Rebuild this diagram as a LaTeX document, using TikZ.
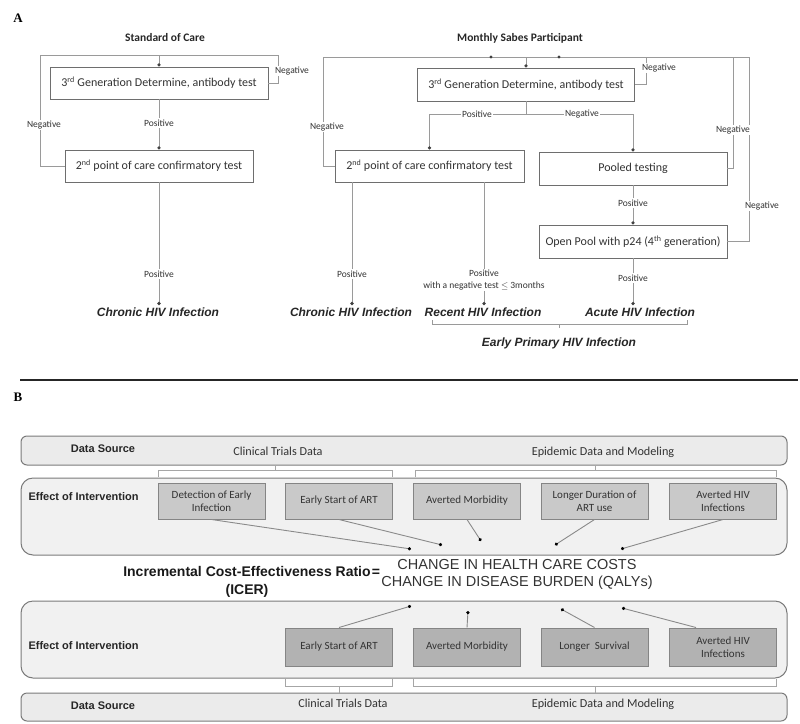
\documentclass[tikz,border=0pt]{standalone}
\usepackage{fontspec}
\setmainfont{Carlito}
\newfontfamily\fari{Liberation Sans}
\newfontfamily\fser{Liberation Serif}
\usetikzlibrary{arrows.meta,calc}
\definecolor{lineA}{HTML}{9A9A9A}
\definecolor{boxA}{HTML}{6E6E6E}
\definecolor{txtA}{HTML}{333333}
\definecolor{dsfill}{HTML}{EBEBEB}
\definecolor{effill}{HTML}{F1F1F1}
\definecolor{obdraw}{HTML}{7A7A7A}
\definecolor{ibtop}{HTML}{C9C9C9}
\definecolor{ibbot}{HTML}{B2B2B2}
\definecolor{ibdraw}{HTML}{858585}
\definecolor{lineB}{HTML}{8A8A8A}
\begin{document}
\begin{tikzpicture}[x=1pt,y=-1pt,
  box/.style={draw=boxA, line width=0.9pt, fill=white, minimum height=32pt, inner sep=2pt,
    font=\fontsize{12}{14}\selectfont, text=txtA},
  lab/.style={fill=white, inner sep=1.2pt, font=\fontsize{9.5}{12}\selectfont, text=txtA, align=center},
  ln/.style={draw=lineA, line width=0.8pt},
  arr/.style={ln, -{Circle[length=3.2pt, color=black!75]}},
  hdr/.style={font=\bfseries\fontsize{11.5}{14}\selectfont, text=black!85},
  outc/.style={font=\fari\bfseries\itshape\fontsize{12}{14}\selectfont, text=black!85, inner sep=2pt},
  obox/.style={draw=obdraw, line width=1pt, minimum width=766pt, inner sep=0pt},
  ibox/.style={draw=ibdraw, line width=1pt, minimum width=107pt, align=center, inner sep=1pt,
    font=\fontsize{11}{13}\selectfont, text=txtA},
  bl/.style={font=\fari\bfseries\fontsize{11}{13}\selectfont, text=black!85},
  srcl/.style={font=\fontsize{12.2}{14}\selectfont, text=txtA},
  lnB/.style={draw=lineB, line width=0.9pt, -{Circle[length=3.2pt, color=black]}},
  brk/.style={draw=black!35, line width=0.9pt}
]
\useasboundingbox (0,0) rectangle (800,723);

% ================= Part A =================
\node[font=\fser\bfseries\fontsize{13}{15}\selectfont] (lA) at (18,18) {A};
\node[hdr] (hsoc) at (165,38) {Standard of Care};
\node[hdr] (hms) at (520,38) {Monthly Sabes Participant};

% Standard of care
\node[box, minimum width=218pt] (s1) at (159,83) {3\textsuperscript{rd} Generation Determine, antibody test};
\node[box, minimum width=188pt] (s2) at (159,166) {2\textsuperscript{nd} point of care confirmatory test};
\node[outc, anchor=base] (c1) at (158,316) {Chronic HIV Infection};
\coordinate (sT) at (159,55);
\coordinate (sL) at (40,55);
\coordinate (sR) at (278,55);
\draw[ln] (s1.east) -| (sR) -- (sL) |- (s2.west);
\draw[arr] (sT) -- (s1.north);
\draw[arr] (s1.south) -- (s2.north);
\draw[arr] (s2.south) -- (s2.south |- c1.north);
\node[lab] (ls1) at (292,71) {Negative};
\node[lab] (ls2) at (44,125) {Negative};
\node[lab] (ls3) at (159,123) {Positive};
\node[lab] (ls4) at (159,274) {Positive};

% Monthly Sabes
\node[box, minimum width=217pt, minimum height=33pt] (m1) at (526,84.5) {3\textsuperscript{rd} Generation Determine, antibody test};
\node[box, minimum width=189pt] (m2) at (429.5,166) {2\textsuperscript{nd} point of care confirmatory test};
\node[box, minimum width=188pt, minimum height=33pt] (pl) at (633,168.5) {Pooled testing};
\node[box, minimum width=188pt, minimum height=33pt] (op) at (633,241.5) {Open Pool with p24 (4\textsuperscript{th} generation)};
\node[outc, anchor=base] (c2) at (351,316) {Chronic HIV Infection};
\node[outc, anchor=base] (rec) at (483,316) {Recent HIV Infection};
\node[outc, anchor=base] (ac) at (640,316) {Acute HIV Infection};
\coordinate (mT) at (526,57);
\coordinate (mL) at (323,57);
\coordinate (mR) at (749,57);
\coordinate (mR1) at (646,57);
\coordinate (mR2) at (733,57);
\coordinate (mB) at (526,114);
\coordinate (mD1) at (491,57);
\coordinate (mD2) at (559,57);
\coordinate (rx) at (484,0);
\coordinate (cx) at (352,0);
\draw[ln] (m2.west) -| (mL) -- (mR);
\draw[ln] (m1.east) -| (mR1);
\draw[ln] (pl.east) -| (mR2);
\draw[ln] (op.east) -| (mR);
\fill[black!75] (mD1) circle (1.6pt);
\fill[black!75] (mD2) circle (1.6pt);
\draw[arr] (mT) -- (m1.north);
\draw[ln] (m1.south) -- (mB);
\draw[arr] (mB) -| (m2.north);
\draw[arr] (mB) -| (pl.north);
\draw[arr] (pl.south) -- (op.north);
\draw[arr] (op.south) -- (op.south |- ac.north);
\draw[arr] (m2.south -| cx) -- (cx |- c2.north);
\draw[arr] (m2.south -| rx) -- (rx |- rec.north);
\node[lab] (lm1) at (659,68) {Negative};
\node[lab] (lm2) at (327,127) {Negative};
\node[lab] (lm3) at (477,114) {Positive};
\node[lab] (lm4) at (582,114) {Negative};
\node[lab] (lm5) at (733,130) {Negative};
\node[lab] (lm6) at (762,206) {Negative};
\node[lab] (lm7) at (633,203) {Positive};
\node[lab] (lm8) at (633,278) {Positive};
\node[lab] (lm9) at (352,274) {Positive};
\node[lab] (lm10) at (484,280) {Positive\\with a negative test $\le$ 3months};
\coordinate (bk1) at (432,320);
\coordinate (bk2) at (687,320);
\coordinate (bkm) at (559,324);
\draw[ln] (bk1) -- (432,324) -- (687,324) -- (bk2);
\draw[ln] (bkm) -- (559,328);
\node[outc] (epi) at (559,343) {Early Primary HIV Infection};

% separator
\coordinate (sepL) at (20,380);
\coordinate (sepR) at (798,380);
\draw[line width=1.3pt, black!85] (sepL) -- (sepR);

% ================= Part B =================
\node[font=\fser\bfseries\fontsize{13}{15}\selectfont] (lB) at (18,397) {B};
\node[obox, fill=dsfill, minimum height=29pt, rounded corners=6pt] (ds1) at (404,450.5) {};
\node[obox, fill=effill, minimum height=77pt, rounded corners=12pt] (ef1) at (404,516.5) {};
\node[obox, fill=effill, minimum height=77pt, rounded corners=12pt] (ef2) at (404,639.5) {};
\node[obox, fill=dsfill, minimum height=28pt, rounded corners=6pt] (ds2) at (404,707) {};

\node[bl] (dsl1) at (103,449) {Data Source};
\node[bl] (dsl2) at (103,706) {Data Source};
\node[srcl] (ct1) at (278,451) {Clinical Trials Data};
\node[srcl] (ep1) at (603,452) {Epidemic Data and Modeling};
\node[srcl] (ct2) at (343,703) {Clinical Trials Data};
\node[srcl] (ep2) at (603,704) {Epidemic Data and Modeling};
\node[bl, anchor=west] (efl1) at (25,497) {Effect of Intervention};
\node[bl, anchor=west] (efl2) at (25,646) {Effect of Intervention};

% brackets
\draw[brk] (158,477) -- (158,470) -- (392,470) -- (392,477);
\draw[brk] (275,470) -- (ds1.south -| 275,0);
\draw[brk] (415,477) -- (415,470) -- (776,470) -- (776,477);
\draw[brk] (595,470) -- (ds1.south -| 595,0);
\draw[brk] (285,679) -- (285,686) -- (392,686) -- (392,679);
\draw[brk] (339,686) -- (ds2.north -| 339,0);
\draw[brk] (413,679) -- (413,686) -- (776,686) -- (776,679);
\draw[brk] (595,686) -- (ds2.north -| 595,0);

% top inner boxes
\node[ibox, fill=ibtop, minimum height=36pt] (d1) at (211.5,501) {Detection of Early\\Infection};
\node[ibox, fill=ibtop, minimum height=36pt] (t2) at (339,501) {Early Start of ART};
\node[ibox, fill=ibtop, minimum height=36pt] (t3) at (467,501) {Averted Morbidity};
\node[ibox, fill=ibtop, minimum height=36pt] (t4) at (594.5,501) {Longer Duration of\\ART use};
\node[ibox, fill=ibtop, minimum height=36pt] (t5) at (723,501) {Averted HIV\\Infections};
% bottom inner boxes
\node[ibox, fill=ibbot, minimum height=38pt] (b2) at (339,647) {Early Start of ART};
\node[ibox, fill=ibbot, minimum height=38pt] (b3) at (467,647) {Averted Morbidity};
\node[ibox, fill=ibbot, minimum height=38pt] (b4) at (594.5,647) {Longer\ \ Survival};
\node[ibox, fill=ibbot, minimum height=38pt] (b5) at (723,647) {Averted HIV\\Infections};

% ICER
\node[font=\fari\bfseries\fontsize{14}{18}\selectfont, align=center, text=black!90] (icer) at (247,582) {Incremental Cost-Effectiveness Ratio\\(ICER)};
\node[font=\fari\bfseries\fontsize{14}{18}\selectfont, text=black!90, inner sep=0pt] (eq) at (376,573) {=};
\node[font=\fari\fontsize{14.5}{17}\selectfont, align=center, text=txtA] (frac) at (517,574.5) {CHANGE IN HEALTH CARE COSTS\\CHANGE IN DISEASE BURDEN (QALYs)};

% convergence points
\coordinate (p1) at (411,549);
\coordinate (p2) at (442,545);
\coordinate (p3) at (481,541);
\coordinate (p4) at (555,545);
\coordinate (p5) at (621,549);
\coordinate (q2) at (411,606);
\coordinate (q3) at (468,611);
\coordinate (q4) at (561,609);
\coordinate (q5) at (622,608);
\draw[lnB] (d1.south) -- (p1);
\draw[lnB] (t2.south) -- (p2);
\draw[lnB] (t3.south) -- (p3);
\draw[lnB] (t4.south) -- (p4);
\draw[lnB] (t5.south) -- (p5);
\draw[lnB] (b2.north) -- (q2);
\draw[lnB] (b3.north) -- (q3);
\draw[lnB] (b4.north) -- (q4);
\draw[lnB] ($(b5.north west)!0.25!(b5.north east)$) -- (q5);
\end{tikzpicture}
\end{document}
